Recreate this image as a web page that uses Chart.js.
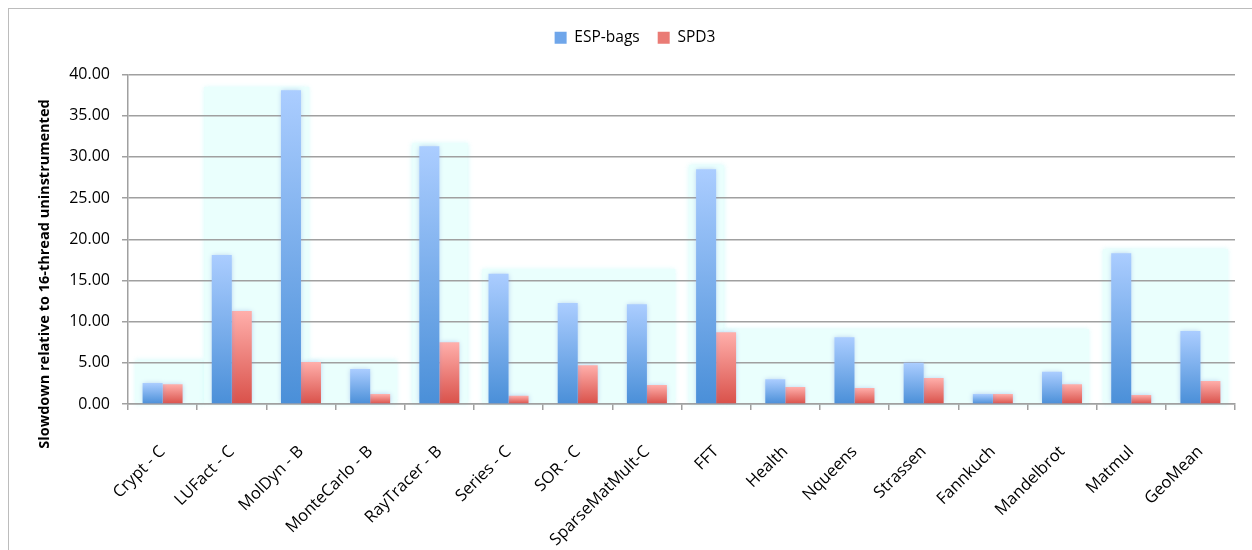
<!DOCTYPE html>
<html>
<head>
<meta charset="utf-8">
<script src="https://cdn.jsdelivr.net/npm/chart.js@4/dist/chart.umd.min.js"></script>
<style>
  html, body { margin: 0; padding: 0; background: #fff; }
  #wrap { position: relative; width: 1252px; height: 550px; }
  #frame { position: absolute; left: 8px; top: 8px; right: 0; bottom: 0;
           border-left: 1px solid #bcbcbc; border-top: 1px solid #bcbcbc; }
  canvas { position: absolute; left: 0; top: 0; }
</style>
</head>
<body>
<div id="wrap">
  <div id="frame"></div>
  <canvas id="chart" width="1252" height="550"></canvas>
</div>
<script>
// Benchmarks
const categories = ['Crypt - C', 'LUFact - C', 'MolDyn - B', 'MonteCarlo - B', 'RayTracer - B',
  'Series - C', 'SOR - C', 'SparseMatMult-C', 'FFT', 'Health', 'Nqueens', 'Strassen',
  'Fannkuch', 'Mandelbrot', 'Matmul', 'GeoMean'];

// Slowdown relative to 16-thread uninstrumented run
const espBags = [2.55, 18.1, 38.1, 4.25, 31.3, 15.8, 12.25, 12.1, 28.5, 3.0, 8.1, 5.0, 1.2, 3.9, 18.3, 8.85];
const spd3    = [2.4, 11.3, 5.1, 1.2, 7.5, 1.0, 4.7, 2.3, 8.7, 2.05, 1.95, 3.15, 1.2, 2.4, 1.1, 2.8];

// Shaded benchmark groups: span in category units and height in slowdown units
const groupFrom = [-0.40, 0.60, 2.12, 3.61, 4.62, 7.61, 8.11, 13.59];
const groupTo   = [0.60, 2.12, 3.39, 4.41, 7.41, 8.11, 13.39, 15.40];
const groupTop  = [5.3, 38.5, 5.3, 31.7, 16.4, 29.0, 9.1, 18.8];

// Y axis ticks
const yTicks = [0, 5, 10, 15, 20, 25, 30, 35, 40];

const yTitle = 'Slowdown relative to 16-thread uninstrumented';

// Legend swatch colours
const swatch = ['#6fa6ea', '#ea7b75'];

Chart.defaults.font.family = "'Open Sans', sans-serif";
Chart.defaults.color = '#000';

function barFill(ctx, top, bottom, flat) {
  const chart = ctx.chart;
  if (!chart.chartArea || ctx.type !== 'data') return flat;
  const y = chart.scales.y;
  const g = chart.ctx.createLinearGradient(0, y.getPixelForValue(ctx.raw), 0, y.getPixelForValue(0));
  g.addColorStop(0, top);
  g.addColorStop(1, bottom);
  return g;
}

// Extra space between the legend and the plot
const legendGap = {
  id: 'legendGap',
  beforeInit(chart) {
    const fit = chart.legend.fit;
    chart.legend.fit = function () {
      fit.call(chart.legend);
      this.height += 19;
    };
  }
};

// Light cyan panels behind groups of benchmarks
const groupPanels = {
  id: 'groupPanels',
  beforeDraw(chart) {
    const { ctx, scales: { x, y } } = chart;
    ctx.save();
    ctx.fillStyle = '#eafffd';
    ctx.shadowColor = 'rgba(205,250,250,0.9)';
    ctx.shadowBlur = 5;
    for (let i = 0; i < groupTop.length; i++) {
      const l = x.getPixelForValue(groupFrom[i]);
      const r = x.getPixelForValue(groupTo[i]);
      const t = y.getPixelForValue(groupTop[i]);
      const b = y.getPixelForValue(0);
      ctx.fillRect(l, t, r - l, b - t);
    }
    ctx.restore();
  }
};

// Soft glow around the bars
const barGlow = {
  id: 'barGlow',
  beforeDatasetsDraw(chart) {
    const ctx = chart.ctx;
    ctx.save();
    ctx.shadowColor = 'rgba(110,140,220,0.45)';
    ctx.shadowBlur = 5;
  },
  afterDatasetsDraw(chart) {
    chart.ctx.restore();
  }
};

// Rotated y axis title
const yAxisTitle = {
  id: 'yAxisTitle',
  afterDraw(chart) {
    const ctx = chart.ctx;
    ctx.save();
    ctx.translate(45, 274);
    ctx.rotate(-Math.PI / 2);
    ctx.font = "bold 14.5px 'Open Sans', sans-serif";
    ctx.fillStyle = '#000';
    ctx.textAlign = 'center';
    ctx.textBaseline = 'middle';
    ctx.fillText(yTitle, 0, 0);
    ctx.restore();
  }
};

new Chart(document.getElementById('chart'), {
  type: 'bar',
  data: {
    labels: categories,
    datasets: [
      {
        label: 'ESP-bags',
        data: espBags,
        backgroundColor: ctx => barFill(ctx, '#abcdff', '#4a8fd8', swatch[0]),
        borderWidth: 0
      },
      {
        label: 'SPD3',
        data: spd3,
        backgroundColor: ctx => barFill(ctx, '#ffafab', '#d9514a', swatch[1]),
        borderWidth: 0
      }
    ]
  },
  options: {
    responsive: false,
    animation: false,
    devicePixelRatio: 1,
    layout: { padding: { left: 35, right: 17, top: 12, bottom: 0 } },
    datasets: { bar: { categoryPercentage: 0.578, barPercentage: 1.0 } },
    plugins: {
      legend: {
        position: 'top',
        labels: {
          boxWidth: 12,
          boxHeight: 12,
          padding: 18,
          font: { size: 15.5 },
          color: '#000',
          generateLabels(chart) {
            const items = Chart.defaults.plugins.legend.labels.generateLabels(chart);
            items.forEach(item => {
              item.fillStyle = swatch[item.datasetIndex];
              item.strokeStyle = swatch[item.datasetIndex];
              item.lineWidth = 0;
            });
            return items;
          }
        }
      },
      tooltip: { enabled: false }
    },
    scales: {
      x: {
        offset: true,
        grid: {
          offset: true,
          drawOnChartArea: false,
          drawTicks: true,
          tickLength: 6,
          color: '#a0a0a0',
          lineWidth: 1.5
        },
        border: { display: true, color: '#a0a0a0', width: 1.5 },
        ticks: {
          autoSkip: false,
          minRotation: 45,
          maxRotation: 45,
          padding: 32,
          font: { size: 16.5 },
          color: '#000'
        },
        afterFit(scale) { scale.height = 146; }
      },
      y: {
        min: 0,
        max: 40,
        afterBuildTicks(scale) { scale.ticks = yTicks.map(v => ({ value: v })); },
        grid: {
          color: '#a0a0a0',
          lineWidth: 1.5,
          drawTicks: true,
          tickLength: 6
        },
        border: { display: true, color: '#a0a0a0', width: 1.5 },
        ticks: {
          padding: 12,
          font: { size: 16 },
          color: '#000',
          callback: v => Number(v).toFixed(2)
        },
        afterFit(scale) { scale.width = 93; }
      }
    }
  },
  plugins: [legendGap, groupPanels, barGlow, yAxisTitle]
});
</script>
</body>
</html>
